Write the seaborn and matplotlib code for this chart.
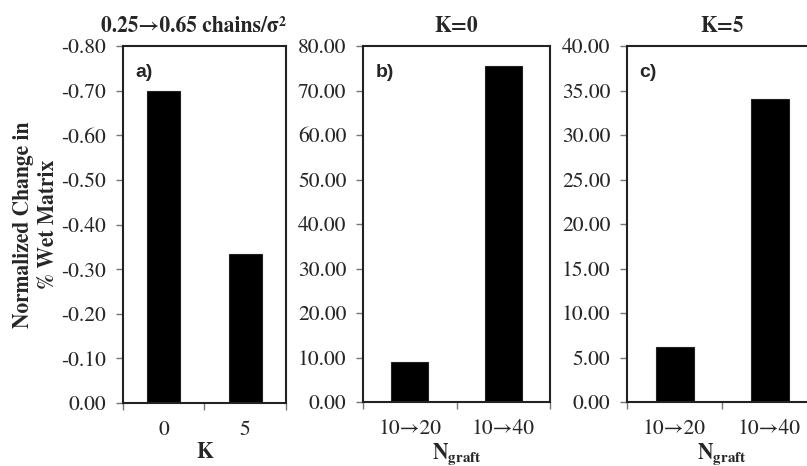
import matplotlib
matplotlib.use("Agg")
import matplotlib.pyplot as plt
import seaborn as sns
import pandas as pd
from matplotlib.ticker import FormatStrFormatter, FixedLocator

sns.set_style("white")
plt.rcParams['font.family'] = ['STIXGeneral', 'Liberation Serif', 'DejaVu Serif']
plt.rcParams['mathtext.fontset'] = 'stix'

# Data
k_categories = ["0", "5"]
k_values = [-0.70, -0.333]
ngraft_categories = ["10\u219220", "10\u219240"]
k0_values = [8.9, 75.6]
k5_values = [6.15, 34.1]

titles = ["0.25\u21920.65 chains/\u03c3\u00b2", "K=0", "K=5"]
panel_tags = ["a)", "b)", "c)"]

FS = 15.5

fig = plt.figure(figsize=(8.07, 4.66), dpi=100)
W, H = 807.0, 466.0

def ax_at(left, right, top, bottom):
    return fig.add_axes([left / W, 1 - bottom / H, (right - left) / W, (bottom - top) / H])

ax_a = ax_at(123, 286, 46, 403)
ax_b = ax_at(363, 550, 46, 402)
ax_c = ax_at(627, 817, 46, 402)

specs = [
    (ax_a, k_categories, k_values, (0, -0.80), [0, -0.1, -0.2, -0.3, -0.4, -0.5, -0.6, -0.7, -0.8], "K"),
    (ax_b, ngraft_categories, k0_values, (0, 80), list(range(0, 81, 10)), r"$\mathbf{N}_{\mathbf{graft}}$"),
    (ax_c, ngraft_categories, k5_values, (0, 40), list(range(0, 41, 5)), r"$\mathbf{N}_{\mathbf{graft}}$"),
]

for i, (ax, cats, vals, ylim, yticks, xlabel) in enumerate(specs):
    df = pd.DataFrame({"cat": cats, "val": vals})
    sns.barplot(data=df, x="cat", y="val", color="black", saturation=1,
                width=0.4, edgecolor="#222222", linewidth=0.8, ax=ax)
    ax.set_xlim(-0.5, len(cats) - 0.5)
    ax.set_ylim(*ylim)
    ax.set_yticks(yticks)
    ax.yaxis.set_major_formatter(FormatStrFormatter("%.2f"))
    ax.tick_params(axis="y", which="major", direction="out", length=5, width=1,
                   color="#777777", pad=7, labelsize=FS, left=True)
    ax.tick_params(axis="x", which="major", length=0, pad=12.5, labelsize=FS)
    ax.xaxis.set_minor_locator(FixedLocator([-0.5, 0.5, 1.5]))
    ax.tick_params(axis="x", which="minor", direction="out", length=5, width=1,
                   color="#777777", bottom=True)
    for s in ax.spines.values():
        s.set_visible(True)
        s.set_color("#222222")
        s.set_linewidth(1.5)
    ax.set_xlabel(xlabel, fontsize=FS, fontweight="bold", labelpad=1.5)
    ax.set_ylabel("")
    tx = 0.43 if i == 0 else 0.5
    ax.set_title(titles[i], fontsize=FS, fontweight="bold", pad=10, x=tx)
    ax.annotate(panel_tags[i], xy=(0, 1), xycoords="axes fraction",
                xytext=(9, -25), textcoords="offset points",
                ha="left", va="bottom", fontsize=14, fontweight="bold",
                family=["Liberation Sans", "DejaVu Sans"])

ax_a.set_ylabel("Normalized Change in\n% Wet Matrix", fontsize=FS,
                fontweight="bold", linespacing=1.3)
ax_a.yaxis.set_label_coords(-0.39, 0.5)

fig.savefig("out.png", dpi=100)
